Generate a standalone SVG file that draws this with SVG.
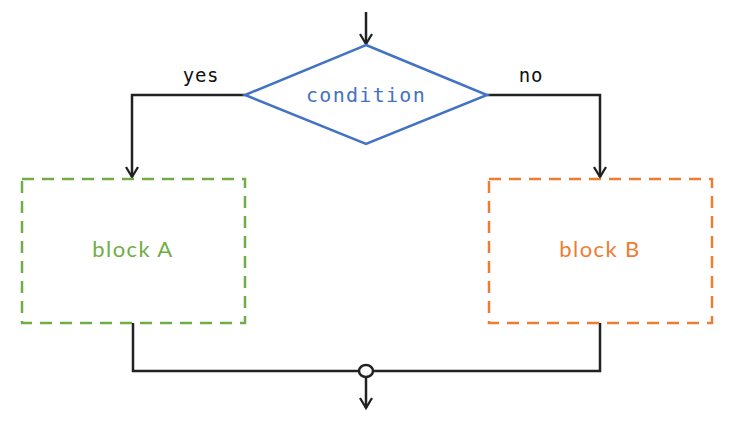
<svg xmlns="http://www.w3.org/2000/svg" width="736" height="432" viewBox="0 0 736 432">
<style>
.conn{fill:none;stroke:#222;stroke-width:2.5}
.mono{font-family:"DejaVu Sans Mono","Liberation Mono",monospace;font-size:19px;letter-spacing:0.8px;fill:#111}
.lbl{font-family:"Lato","Noto Sans",sans-serif;font-size:22px;letter-spacing:1.4px;text-anchor:middle}
</style>
<defs>
<marker id="arr" viewBox="0 0 14 14" refX="12" refY="7" markerWidth="14" markerHeight="14" markerUnits="userSpaceOnUse" orient="auto">
<path d="M2,1 L12,7 L2,13" fill="none" stroke="#222" stroke-width="2.3"/>
</marker>
</defs>
<rect width="736" height="432" fill="#fff"/>
<g id="connectors">
<path class="conn" d="M366,12 V44" marker-end="url(#arr)"/>
<path class="conn" d="M245,95 H132 V177" marker-end="url(#arr)"/>
<path class="conn" d="M487,95 H600 V177" marker-end="url(#arr)"/>
<path class="conn" d="M133,323 V371 H359 M373,371 H600 V323"/>
<path class="conn" d="M366,377 V408" marker-end="url(#arr)"/>
<text class="mono" x="201" y="82" text-anchor="middle">yes</text>
<text class="mono" x="531" y="82" text-anchor="middle">no</text>
</g>
<g id="condition">
<polygon points="366,45 487,95 366,144 245,95" fill="#fff" stroke="#4472c4" stroke-width="2.5"/>
<text x="366" y="102" text-anchor="middle" style="font-family:'DejaVu Sans Mono','Liberation Mono',monospace;font-size:20px;letter-spacing:1.3px;fill:#4472c4">condition</text>
</g>
<g id="blockA">
<rect x="22" y="179" width="223" height="144" fill="none" stroke="#70ad47" stroke-width="2.5" stroke-dasharray="12,8"/>
<text class="lbl" x="133" y="257" fill="#70ad47">block A</text>
</g>
<g id="blockB">
<rect x="489" y="179" width="223" height="144" fill="none" stroke="#ed7d31" stroke-width="2.5" stroke-dasharray="12,8"/>
<text class="lbl" x="600" y="257" fill="#ed7d31">block B</text>
</g>
<g id="merge">
<ellipse cx="366" cy="371" rx="7" ry="6" fill="#fff" stroke="#222" stroke-width="2.5"/>
</g>
</svg>
